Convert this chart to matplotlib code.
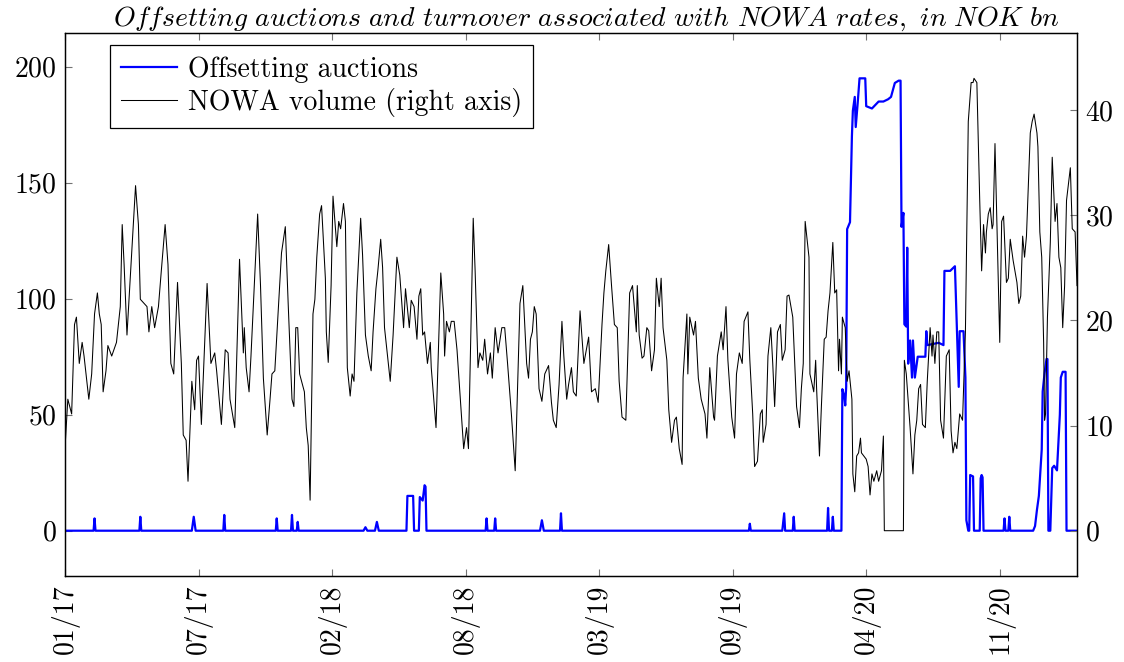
import numpy as np                                        # arreglos
import matplotlib
matplotlib.use('Agg')
import matplotlib.pyplot as plt                           # graficas

# ---------------- datos ----------------
# dia habil contado desde el 2 de enero de 2017 y volumen NOWA (mrd NOK, eje derecho)
nowa_dia = [0, 3, 7, 10, 12, 15, 18, 20, 25, 28, 31, 34, 36, 38, 40, 43, 45, 49, 54, 58,
            60, 62, 65, 68, 74, 77, 79, 86, 88, 91, 94, 98, 101, 105, 108, 111, 114, 118, 122, 124,
            127, 129, 133, 136, 138, 140, 143, 149, 153, 157, 159, 164, 168, 171, 173, 178, 183, 187, 188, 190,
            193, 195, 202, 205, 208, 212, 215, 217, 220, 227, 231, 234, 238, 240, 242, 244, 246, 251, 253, 255,
            257, 260, 262, 264, 267, 269, 273, 274, 276, 279, 281, 285, 287, 289, 292, 294, 296, 299, 301, 303,
            306, 310, 312, 315, 318, 321, 323, 326, 328, 331, 333, 335, 341, 344, 348, 351, 355, 357, 361, 363,
            366, 369, 371, 373, 375, 377, 380, 383, 384, 389, 394, 397, 398, 400, 403, 405, 408, 411, 414, 418,
            421, 423, 428, 430, 433, 435, 438, 440, 443, 446, 448, 451, 454, 458, 461, 464, 468, 472, 477, 480,
            484, 486, 488, 490, 492, 494, 497, 500, 503, 507, 510, 512, 515, 518, 521, 523, 526, 528, 531, 533,
            536, 540, 544, 549, 552, 556, 559, 563, 565, 567, 570, 573, 576, 579, 581, 584, 588, 592, 595, 599,
            600, 602, 605, 607, 610, 612, 615, 618, 620, 623, 625, 627, 631, 633, 636, 639, 641, 644, 647, 648,
            652, 653, 655, 659, 661, 664, 667, 671, 673, 676, 680, 681, 684, 688, 690, 693, 695, 699, 702, 704,
            707, 710, 712, 716, 718, 721, 723, 726, 729, 731, 732, 735, 737, 740, 742, 744, 747, 750, 752, 755,
            757, 759, 763, 767, 770, 772, 774, 776, 780, 781, 785, 787, 788, 791, 793, 796, 798, 800, 802, 805,
            807, 809, 811, 812, 814, 815, 818, 820, 822, 825, 826, 828, 830, 832, 834, 835, 840, 842, 844, 846,
            848, 851, 853, 856, 858, 859, 879, 880, 882, 886, 889, 891, 893, 895, 897, 899, 902, 904, 907, 909,
            910, 912, 914, 916, 918, 921, 924, 927, 929, 931, 933, 935, 938, 941, 944, 947, 950, 952, 953, 956,
            959, 961, 963, 965, 966, 968, 970, 972, 973, 975, 977, 980, 982, 984, 987, 989, 991, 994, 998, 1000,
            1002, 1004, 1006, 1008, 1012, 1014, 1016, 1019, 1020, 1022, 1024, 1026, 1027, 1028, 1030, 1033, 1035, 1038, 1040, 1042,
            1044, 1046, 1048, 1050, 1054, 1056, 1059, 1061]
nowa_volumen = [7.8, 12.5, 11.1, 19.6, 20.3, 15.9, 17.9, 16.6, 12.5, 14.9, 20.6, 22.6, 20.6, 19.6, 13.2, 15.2, 17.6, 16.6, 17.9, 21.3,
                29.1, 25.3, 18.6, 23.3, 32.8, 29.1, 22.0, 21.3, 18.9, 21.3, 19.3, 21.3, 24.7, 29.1, 25.3, 15.9, 14.9, 23.6, 15.9, 9.1,
                8.6, 4.7, 14.2, 11.5, 16.2, 16.6, 10.1, 23.5, 15.9, 16.9, 15.2, 10.1, 17.2, 16.9, 12.5, 9.8, 25.8, 16.9, 19.3, 15.5,
                13.2, 16.6, 30.1, 23.3, 14.5, 9.1, 12.5, 14.9, 15.2, 26.4, 28.9, 21.6, 12.5, 11.8, 19.3, 19.3, 14.9, 13.2, 9.8, 8.1,
                2.9, 20.6, 22.0, 26.0, 30.1, 30.9, 24.0, 18.9, 16.0, 23.3, 31.8, 27.0, 29.4, 28.7, 31.1, 29.4, 15.5, 12.8, 14.9, 14.2,
                22.6, 29.7, 26.2, 18.6, 16.6, 15.2, 18.9, 23.0, 24.7, 27.7, 25.0, 19.3, 14.2, 18.6, 26.0, 24.3, 19.3, 23.0, 19.3, 21.9,
                21.3, 18.2, 22.3, 23.0, 18.6, 18.9, 15.9, 17.9, 15.5, 9.8, 24.5, 20.6, 16.6, 19.9, 18.9, 19.9, 19.9, 17.2, 13.2, 7.8,
                9.8, 7.8, 29.7, 24.7, 15.5, 16.9, 16.2, 18.2, 14.9, 16.9, 14.5, 19.3, 16.9, 19.3, 19.3, 15.9, 11.1, 5.7, 21.6, 23.3,
                15.9, 14.5, 18.2, 18.9, 21.3, 20.6, 13.5, 12.3, 14.9, 15.7, 12.2, 10.5, 9.8, 13.9, 19.9, 16.6, 12.5, 13.9, 15.5, 13.2,
                12.8, 20.9, 15.9, 18.4, 13.2, 13.5, 12.2, 19.6, 22.6, 24.7, 27.2, 23.3, 19.6, 19.3, 14.2, 10.8, 10.5, 22.6, 23.3, 18.9,
                23.3, 18.6, 16.4, 16.6, 19.3, 19.0, 15.2, 17.2, 24.0, 21.3, 24.0, 19.3, 16.2, 11.5, 8.4, 10.5, 10.8, 7.8, 6.3, 14.5,
                20.6, 14.9, 20.3, 18.6, 19.9, 14.5, 12.5, 11.1, 8.8, 15.5, 10.8, 10.5, 16.6, 18.9, 17.2, 21.3, 16.2, 10.8, 8.8, 14.9,
                16.9, 15.9, 19.9, 20.8, 16.2, 11.1, 6.1, 6.6, 11.1, 11.5, 8.4, 10.1, 16.6, 19.3, 15.9, 11.8, 18.9, 19.6, 16.2, 17.2,
                22.3, 22.4, 20.3, 11.8, 9.8, 13.5, 15.9, 29.4, 26.0, 14.9, 13.2, 16.2, 13.5, 7.1, 11.8, 18.2, 18.4, 20.9, 22.6, 27.4,
                22.6, 22.9, 15.2, 18.2, 14.9, 20.3, 19.3, 14.2, 15.2, 12.5, 5.4, 3.7, 7.1, 7.4, 8.8, 7.4, 6.8, 6.1, 3.4, 5.4,
                4.7, 5.7, 4.7, 5.7, 9.0, 0.0, 0.0, 16.2, 14.9, 9.8, 5.4, 9.1, 10.5, 13.5, 13.9, 10.1, 9.8, 14.2, 19.3, 16.6,
                18.6, 15.9, 18.9, 18.9, 10.5, 8.8, 16.6, 17.2, 9.5, 7.4, 8.4, 7.8, 11.1, 10.5, 18.9, 38.9, 42.6, 42.6, 43.0, 42.6,
                31.4, 24.7, 29.1, 26.4, 28.4, 30.1, 30.7, 28.7, 29.1, 36.8, 29.4, 17.9, 29.4, 29.9, 23.6, 24.0, 27.7, 25.7, 23.6, 21.6,
                22.3, 28.0, 26.0, 28.0, 37.8, 38.9, 39.6, 37.8, 36.5, 28.4, 26.0, 17.9, 10.5, 11.1, 20.3, 27.4, 35.5, 29.4, 31.1, 26.0,
                25.0, 19.3, 23.3, 31.4, 34.5, 28.7, 28.4, 23.3]

# subastas de compensacion (mrd NOK, eje izquierdo)
subasta_dia = [0, 30, 31, 32, 78, 79, 80, 133, 135, 137, 166, 167, 168, 221, 222, 223, 237, 238, 239, 243,
               244, 245, 313, 315, 317, 325, 327, 329, 358, 359, 365, 366, 371, 372, 375, 377, 378, 379, 441, 442,
               443, 450, 451, 452, 498, 500, 502, 519, 520, 521, 717, 718, 719, 752, 754, 755, 763, 764, 765, 799,
               800, 801, 804, 805, 806, 814, 815, 817, 818, 819, 820, 823, 825, 826, 828, 829, 831, 833, 839, 840,
               846, 853, 858, 863, 866, 870, 874, 876, 877, 879, 880, 882, 883, 884, 886, 888, 889, 891, 894, 902,
               903, 904, 916, 921, 922, 928, 933, 934, 937, 938, 942, 944, 945, 947, 948, 949, 952, 953, 959, 960,
               961, 962, 963, 984, 985, 986, 989, 990, 991, 1015, 1017, 1019, 1021, 1024, 1025, 1027, 1029, 1030, 1031, 1033,
               1035, 1037, 1040, 1043, 1044, 1046, 1049, 1050, 1061]
subasta_volumen = [0, 0, 5.3, 0, 0, 6.0, 0, 0, 6.0, 0, 0, 6.8, 0, 0, 5.3, 0, 0, 6.8, 0, 0,
                   3.8, 0, 0, 1.5, 0, 0, 3.8, 0, 0, 15.0, 15.0, 0, 0, 14.5, 13.0, 19.6, 19.0, 0, 0, 5.3,
                   0, 0, 5.3, 0, 0, 4.5, 0, 0, 7.5, 0, 0, 3.0, 0, 0, 7.5, 0, 0, 6.0, 0, 0,
                   9.8, 0, 0, 6.0, 0, 0, 61, 58, 54, 62, 130, 133, 170, 181, 187, 174, 184, 195, 195, 183,
                   182, 185, 185, 186, 187, 193, 194, 194, 131, 137, 89, 88, 122, 72, 82, 66, 82, 66, 75, 75,
                   86, 80, 81, 80, 112, 112, 114, 101, 62, 86, 86, 66, 4.5, 0, 0, 24, 23.4, 0, 0, 22.6,
                   24, 23, 0, 0, 5.3, 0, 0, 6.0, 0, 0, 2, 9, 15, 35, 60, 68, 74, 74, 0, 0,
                   27, 28, 26, 50, 66, 68.5, 68.5, 0, 0]

# etiquetas del eje x (cada 140 dias habiles)
dia_etiquetas = [0, 140, 280, 420, 560, 700, 840, 980]
etiquetas_x = ['01/17', '07/17', '02/18', '08/18', '03/19', '09/19', '04/20', '11/20']
ultimo_dia = 1061


def graficar():
    plt.rcParams['font.family'] = 'serif'
    plt.rcParams['font.serif'] = ['cmr10']
    plt.rcParams['mathtext.fontset'] = 'cm'
    plt.rcParams['axes.formatter.use_mathtext'] = True
    plt.rcParams['font.size'] = 20

    fig = plt.figure(figsize=(11.24, 6.62), dpi=100)
    ax = fig.add_axes([0.0578, 0.130, 0.9004, 0.820])  # eje izquierdo
    ax2 = ax.twinx()                                   # eje derecho

    linea_sub, = ax.plot(subasta_dia, subasta_volumen, color='#0000ff', lw=1.6,
                         label='Offsetting auctions')
    linea_nowa, = ax2.plot(nowa_dia, nowa_volumen, color='black', lw=0.75,
                           label='NOWA volume (right axis)')

    ax.set_xlim(0, ultimo_dia)
    ax.set_ylim(-19.5, 214.5)
    ax2.set_ylim(-4.3, 47.3)

    ax.set_yticks([0, 50, 100, 150, 200])
    ax2.set_yticks([0, 10, 20, 30, 40])
    ax.set_xticks(dia_etiquetas)
    ax.set_xticklabels(etiquetas_x, rotation=90)

    gris = '0.45'
    ax.tick_params(axis='x', direction='in', top=True, length=5, width=0.8, color=gris, pad=6)
    ax.tick_params(axis='y', direction='in', right=False, length=5, width=0.8, color=gris, pad=6)
    ax2.tick_params(axis='y', direction='in', length=5, width=0.8, color=gris, pad=6)
    for eje in (ax, ax2):
        for lado in eje.spines.values():
            lado.set_linewidth(0.9)
            lado.set_color('black')

    ax.set_title(r'$\mathit{Offsetting\ auctions\ and\ turnover\ associated\ with\ NOWA\ rates,\ in\ NOK\ bn}$',
                 fontsize=20, pad=3, x=0.515)

    leyenda = ax2.legend(handles=[linea_sub, linea_nowa], loc='upper left',
                         bbox_to_anchor=(0.0445, 0.978), borderaxespad=0, fancybox=False,
                         edgecolor='black', framealpha=1, fontsize=20, handlelength=2.0,
                         handletextpad=0.4, labelspacing=0.2, borderpad=0.4)
    leyenda.get_frame().set_linewidth(0.9)

    fig.savefig('out.png', dpi=100)


if __name__ == "__main__":
    graficar()
